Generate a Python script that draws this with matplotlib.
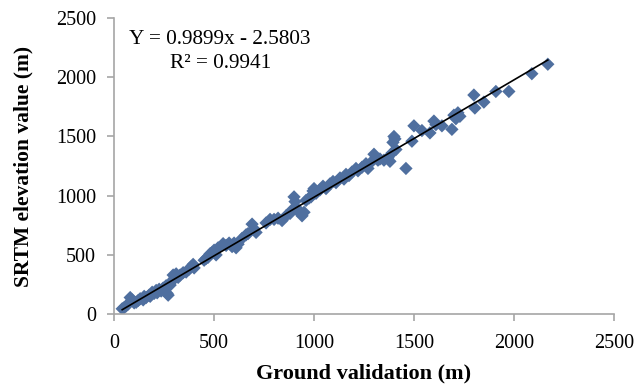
import matplotlib
matplotlib.use("Agg")
import matplotlib.pyplot as plt
import numpy as np

ground = [40, 50, 60, 70, 80, 90, 100, 110, 120, 130, 145, 150, 160, 175, 180,
          190, 200, 210, 215, 225, 235, 245, 250, 260, 265, 270, 280, 290, 295,
          300, 310, 320, 330, 345, 360, 375, 385, 395, 400, 450, 460, 470, 480,
          490, 500, 510, 520, 545, 560, 575, 590, 600, 610, 620, 640, 660, 670,
          690, 700, 710, 760, 780, 800, 820, 840, 860, 880, 890, 900, 905, 910,
          920, 940, 950, 960, 975, 985, 995, 1000, 1010, 1030, 1045, 1060, 1080,
          1095, 1110, 1130, 1150, 1160, 1175, 1190, 1210, 1220, 1240, 1260, 1270,
          1290, 1300, 1320, 1330, 1350, 1370, 1380, 1390, 1395, 1400, 1405, 1410,
          1460, 1490, 1500, 1540, 1580, 1600, 1610, 1640, 1690, 1700, 1710, 1720,
          1730, 1800, 1805, 1850, 1910, 1975, 2090, 2170]
srtm = [45, 55, 70, 85, 140, 120, 95, 100, 115, 130, 120, 150, 140, 160, 150,
        185, 175, 200, 180, 210, 195, 220, 200, 240, 175, 160, 245, 280, 330,
        300, 340, 310, 330, 350, 355, 380, 400, 420, 390, 455, 470, 480, 510,
        520, 540, 500, 560, 595, 580, 600, 570, 600, 560, 590, 640, 670, 680,
        760, 720, 690, 770, 800, 800, 810, 790, 830, 850, 880, 990, 950, 900,
        870, 830, 860, 960, 980, 990, 1040, 1060, 1020, 1050, 1080, 1060, 1100,
        1120, 1110, 1150, 1140, 1180, 1170, 1200, 1230, 1210, 1240, 1270, 1230,
        1290, 1350, 1300, 1310, 1300, 1320, 1290, 1360, 1450, 1500, 1480, 1390,
        1230, 1460, 1590, 1550, 1530, 1630, 1600, 1590, 1560, 1680, 1650, 1700,
        1670, 1850, 1740, 1790, 1880, 1880, 2030, 2110]
slope = 0.9899
intercept = -2.5803
r2 = 0.9941

plt.rcParams['font.family'] = ['Liberation Serif', 'DejaVu Serif']

fig = plt.figure(figsize=(6.38, 3.84), dpi=100)
ax = fig.add_axes([0.179, 0.182, 0.783, 0.771])

ax.scatter(ground, srtm, marker='D', s=46, color='#4f6f9f', edgecolors='none', zorder=2)
xs = np.array([min(ground), max(ground)])
ax.plot(xs, slope * xs + intercept, color='black', linewidth=1.2, zorder=3)

ax.set_xlim(0, 2500)
ax.set_ylim(0, 2500)
ax.set_xticks(range(0, 2501, 500))
ax.set_yticks(range(0, 2501, 500))

for side in ['top', 'right']:
    ax.spines[side].set_visible(False)
for side in ['left', 'bottom']:
    ax.spines[side].set_color('#a6a6a6')
    ax.spines[side].set_linewidth(1.2)
ax.tick_params(axis='both', colors='#a6a6a6', length=5, width=1.2,
               labelcolor='black', labelsize=14.5)
ax.tick_params(axis='x', pad=9)
ax.tick_params(axis='y', pad=8)

ax.set_xlabel('Ground validation (m)', fontsize=16, fontweight='bold', labelpad=8)
ax.set_ylabel('SRTM elevation value (m)', fontsize=15.5, fontweight='bold', labelpad=16)

ax.text(0.212, 0.929, f'Y = {slope}x - {-intercept}', transform=ax.transAxes,
        ha='center', va='center', fontsize=15.3)
ax.text(0.214, 0.848, f'R² = {r2}', transform=ax.transAxes,
        ha='center', va='center', fontsize=15.3)

fig.savefig('out.png', dpi=100)
